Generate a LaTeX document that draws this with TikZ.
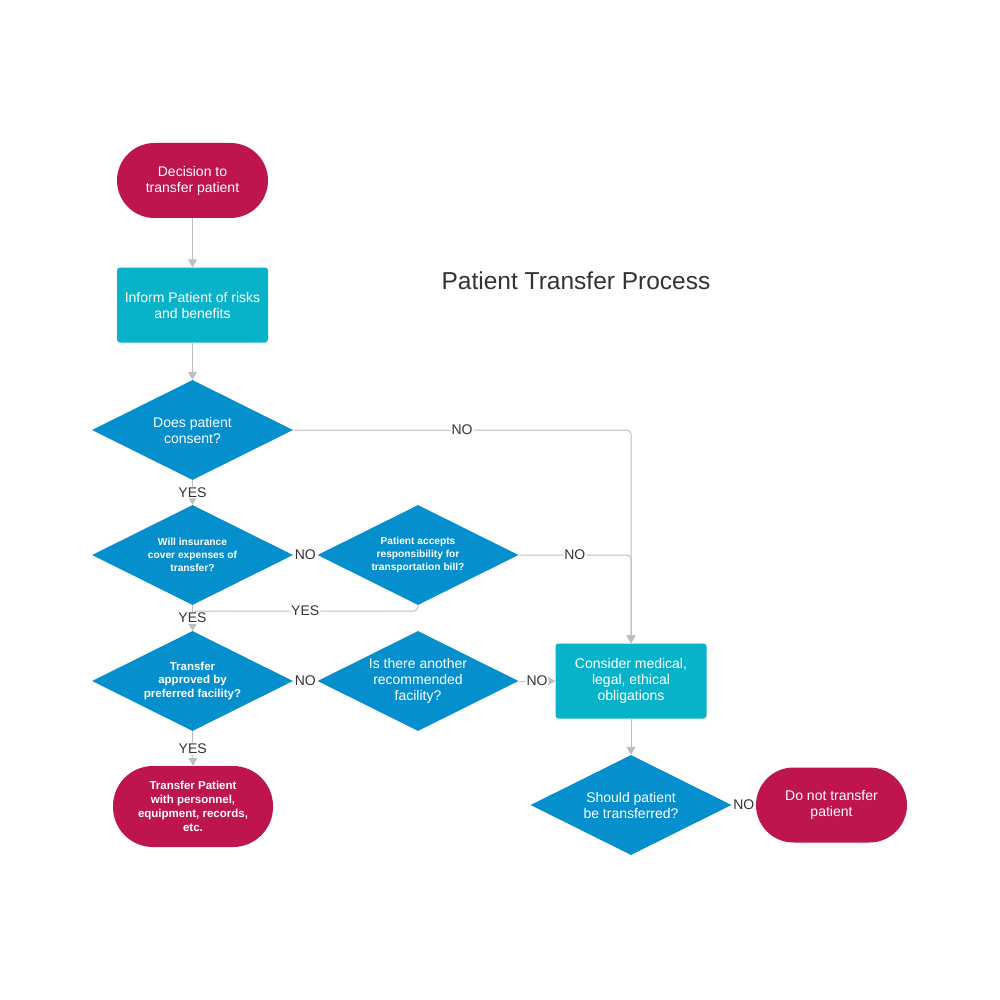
\documentclass[tikz,border=0pt]{standalone}
\usepackage{fontspec}
\setmainfont{Liberation Sans}
\usetikzlibrary{shapes.geometric,arrows.meta}
\definecolor{crim}{RGB}{190,21,78}
\definecolor{tealbox}{RGB}{8,179,201}
\definecolor{bluedec}{RGB}{5,144,205}
\definecolor{linecol}{RGB}{190,190,190}
\definecolor{txtcol}{RGB}{51,51,51}
\begin{document}
\begin{tikzpicture}[x=1pt,y=-1pt,
  term/.style={rectangle, rounded corners=37.5pt, fill=crim, text=white, minimum width=151pt, minimum height=75pt, inner sep=0pt, align=center, font=\fontsize{14}{16}\selectfont},
  proc/.style={rectangle, rounded corners=3pt, fill=tealbox, text=white, minimum width=151pt, minimum height=75pt, inner sep=0pt, align=center, font=\fontsize{14}{16}\selectfont},
  dec/.style={diamond, shape aspect=2, fill=bluedec, text=white, minimum width=201pt, minimum height=100pt, inner sep=0pt, align=center, font=\fontsize{14}{16}\selectfont},
  smallbold/.style={font=\bfseries\fontsize{10.2}{13}\selectfont},
  midbold/.style={font=\bfseries\fontsize{11.5}{13.8}\selectfont},
  conn/.style={draw=linecol, line width=1pt, rounded corners=4pt, -{Triangle[width=9pt,length=8pt]}},
  plain/.style={draw=linecol, line width=1pt, rounded corners=4pt},
  lab/.style={fill=white, text=txtcol, inner sep=1pt, font=\fontsize{14}{16}\selectfont}
]
\useasboundingbox[fill=white] (0,0) rectangle (1000,1000);

\node[text=txtcol, font=\fontsize{24.5}{28}\selectfont] (title) at (576,281) {Patient Transfer Process};

\node[term] (s1) at (192.5,180.5) {Decision to\\transfer patient};
\node[proc] (p1) at (192.5,305) {Inform Patient of risks\\and benefits};
\node[dec] (d1) at (192.5,430) {Does patient\\consent?};
\node[dec, smallbold] (d2) at (192.5,555) {Will insurance\\cover expenses of\\transfer?};
\node[dec, smallbold] (d3) at (418,555) {Patient accepts\\responsibility for\\transportation bill?};
\node[dec, midbold] (d4) at (192.5,681) {Transfer\\approved by\\preferred facility?};
\node[dec] (d5) at (418,681) {Is there another\\recommended\\facility?};
\node[proc] (p2) at (631,681) {Consider medical,\\legal, ethical\\obligations};
\node[dec] (d6) at (631,805) {Should patient\\be transferred?};
\node[term] (t2) at (831.5,805) {Do not transfer\\patient};
\node[term, midbold, minimum width=160pt, minimum height=81pt, rounded corners=40pt] (t3) at (193,806.5) {Transfer Patient\\with personnel,\\equipment, records,\\etc.};

\coordinate (c1) at (418,611);

\draw[conn] (s1) -- (p1);
\draw[conn] (p1) -- (d1);
\draw[conn] (d1.east) -| node[lab, pos=0.25] {NO} (p2.north);
\draw[conn] (d3.east) -| node[lab, pos=0.25] {NO} (p2.north);
\draw[conn] (d1.south) -- node[lab] {YES} (d2.north);
\draw[plain] (d2.east) -- node[lab] {NO} (d3.west);
\draw[conn] (d3.south) -- (c1) -| node[lab, pos=0.25] {YES} (d4.north);
\draw[conn] (d2.south) -- node[lab] {YES} (d4.north);
\draw[plain] (d4.east) -- node[lab] {NO} (d5.west);
\draw[conn] (d5.east) -- node[lab] {NO} (p2.west);
\draw[conn] (d4.south) -- node[lab] {YES} (t3.north);
\draw[conn] (p2.south) -- (d6.north);
\draw[plain] (d6.east) -- node[lab] {NO} (t2.west);
\end{tikzpicture}
\end{document}
